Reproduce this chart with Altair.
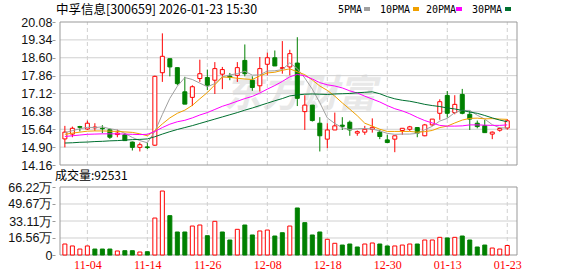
import altair as alt
import pandas as pd

# ---------------- data ----------------
dates = ["10-30", "10-31", "11-03", "11-04", "11-05", "11-06", "11-07", "11-10", "11-11", "11-12",
         "11-13", "11-14", "11-17", "11-18", "11-19", "11-20", "11-21", "11-24", "11-25", "11-26",
         "11-27", "11-28", "12-01", "12-02", "12-03", "12-04", "12-05", "12-08", "12-09", "12-10",
         "12-11", "12-12", "12-15", "12-16", "12-17", "12-18", "12-19", "12-22", "12-23", "12-24",
         "12-25", "12-26", "12-29", "12-30", "12-31", "01-05", "01-06", "01-07", "01-08", "01-09",
         "01-12", "01-13", "01-14", "01-15", "01-16", "01-19", "01-20", "01-21", "01-22", "01-23"]

opens = [15.24, 15.44, 15.75, 15.65, 15.70, 15.68, 15.62, 15.42, 15.41, 15.11,
         14.89, 14.91, 14.98, 17.98, 18.56, 18.19, 17.19, 16.96, 17.74, 17.78,
         17.67, 17.92, 17.84, 17.87, 18.49, 17.67, 17.44, 18.33, 18.60, 18.16,
         18.22, 18.38, 16.37, 16.64, 15.89, 15.23, 15.61, 15.81, 15.93, 15.48,
         15.52, 15.64, 15.52, 15.20, 15.23, 15.59, 15.64, 15.71, 15.37, 15.82,
         16.30, 17.04, 16.33, 17.08, 16.26, 15.89, 15.79, 15.44, 15.60, 15.69]
highs = [15.78, 15.75, 15.78, 16.00, 15.89, 15.81, 15.68, 15.62, 15.48, 15.13,
         15.09, 15.07, 17.86, 19.61, 18.56, 18.19, 17.81, 17.46, 18.52, 18.11,
         18.42, 18.22, 17.97, 18.42, 19.15, 17.83, 18.63, 18.81, 18.90, 19.29,
         18.93, 19.45, 17.05, 16.64, 16.14, 15.89, 16.33, 16.14, 16.00, 15.59,
         15.78, 16.09, 15.61, 15.41, 15.37, 15.68, 15.78, 15.71, 15.86, 16.06,
         16.88, 17.22, 17.05, 17.31, 16.40, 16.00, 16.03, 15.55, 15.72, 16.06]
lows = [14.89, 15.31, 15.55, 15.61, 15.57, 15.48, 15.24, 15.31, 15.17, 14.76,
        14.72, 14.82, 14.95, 17.60, 17.83, 17.46, 16.68, 16.60, 17.60, 17.26,
        17.10, 17.30, 17.67, 17.60, 17.83, 17.23, 17.20, 17.87, 18.26, 17.94,
        17.87, 16.60, 15.61, 15.96, 14.72, 14.86, 15.61, 15.61, 15.37, 15.37,
        15.41, 15.50, 15.23, 15.07, 14.69, 15.41, 15.57, 15.31, 15.35, 15.78,
        16.03, 16.12, 16.26, 16.26, 15.61, 15.68, 15.50, 15.23, 15.54, 15.62]
closes = [15.52, 15.68, 15.72, 15.89, 15.73, 15.66, 15.31, 15.48, 15.17, 14.89,
          15.00, 14.88, 17.83, 18.66, 18.22, 17.53, 16.68, 17.40, 17.94, 17.46,
          18.15, 18.11, 17.79, 18.19, 17.94, 17.37, 18.15, 18.60, 18.26, 18.19,
          18.77, 16.92, 16.64, 16.00, 15.37, 15.61, 15.78, 15.76, 15.61, 15.54,
          15.64, 15.72, 15.34, 15.09, 15.37, 15.68, 15.74, 15.48, 15.82, 16.06,
          16.78, 16.30, 16.67, 16.30, 16.06, 15.75, 15.50, 15.52, 15.67, 15.99]

# volume in 万 (10k)
volumes = [10.7, 8.8, 5.8, 8.8, 5.8, 5.8, 5.8, 3.9, 4.2, 4.2,
           2.9, 3.2, 36.0, 62.3, 38.3, 22.4, 22.4, 28.2, 29.2, 18.8,
           32.8, 22.4, 14.6, 25.0, 29.2, 19.5, 23.4, 24.3, 18.5, 21.7,
           28.2, 45.8, 31.5, 19.5, 22.4, 15.3, 11.4, 9.7, 10.7, 7.8,
           10.7, 11.7, 10.7, 8.8, 8.8, 9.7, 10.7, 10.7, 14.6, 14.6,
           17.2, 16.6, 17.2, 18.5, 14.6, 7.8, 9.7, 6.8, 5.8, 9.25]
# 1 = red (up vs previous close), 0 = green
vol_up = [1, 1, 1, 1, 0, 0, 0, 1, 0, 0,
          1, 0, 1, 1, 0, 0, 0, 1, 1, 0,
          1, 0, 0, 1, 0, 0, 1, 1, 0, 0,
          1, 0, 0, 0, 0, 1, 1, 0, 0, 0,
          1, 1, 0, 0, 1, 1, 1, 0, 1, 1,
          1, 0, 1, 0, 0, 0, 0, 1, 1, 1]

ma5 = [15.50, 15.58, 15.66, 15.72, 15.71, 15.74, 15.66, 15.61, 15.47, 15.30,
       15.17, 15.08, 15.55, 16.25, 16.92, 17.42, 17.78, 17.70, 17.55, 17.40,
       17.53, 17.81, 17.89, 17.94, 18.04, 17.88, 17.89, 18.05, 18.06, 18.11,
       18.39, 18.15, 17.76, 17.30, 16.74, 16.11, 15.88, 15.70, 15.63, 15.66,
       15.67, 15.65, 15.57, 15.47, 15.43, 15.44, 15.44, 15.47, 15.62, 15.76,
       15.98, 16.09, 16.33, 16.42, 16.42, 16.22, 16.06, 15.83, 15.70, 15.69]
ma10 = [15.43, 15.48, 15.52, 15.56, 15.57, 15.57, 15.56, 15.55, 15.53, 15.51,
        15.45, 15.37, 15.58, 15.86, 16.11, 16.30, 16.43, 16.63, 16.90, 17.16,
        17.48, 17.80, 17.79, 17.75, 17.72, 17.70, 17.85, 17.97, 18.00, 18.08,
        18.14, 18.02, 17.90, 17.68, 17.43, 17.25, 17.01, 16.73, 16.47, 16.20,
        15.89, 15.77, 15.64, 15.55, 15.55, 15.55, 15.55, 15.52, 15.54, 15.59,
        15.71, 15.77, 15.90, 16.02, 16.09, 16.10, 16.07, 16.08, 16.06, 16.05]
ma20 = [15.34, 15.37, 15.40, 15.43, 15.44, 15.45, 15.45, 15.45, 15.44, 15.43,
        15.42, 15.43, 15.55, 15.71, 15.85, 15.95, 16.01, 16.11, 16.23, 16.33,
        16.46, 16.59, 16.69, 16.80, 16.91, 17.00, 17.14, 17.30, 17.45, 17.62,
        17.81, 17.91, 17.85, 17.72, 17.57, 17.48, 17.43, 17.35, 17.23, 17.14,
        17.01, 16.89, 16.77, 16.62, 16.49, 16.40, 16.28, 16.13, 16.00, 15.90,
        15.80, 15.77, 15.77, 15.78, 15.82, 15.82, 15.81, 15.80, 15.80, 15.82]
ma30 = [15.07, 15.08, 15.10, 15.11, 15.13, 15.14, 15.16, 15.17, 15.19, 15.21,
        15.22, 15.24, 15.33, 15.44, 15.54, 15.63, 15.71, 15.79, 15.88, 15.97,
        16.06, 16.15, 16.24, 16.33, 16.43, 16.52, 16.62, 16.72, 16.82, 16.91,
        17.02, 17.06, 17.09, 17.10, 17.09, 17.08, 17.10, 17.11, 17.12, 17.15,
        17.17, 17.19, 17.11, 16.99, 16.90, 16.84, 16.80, 16.74, 16.67, 16.62,
        16.58, 16.52, 16.48, 16.42, 16.35, 16.30, 16.21, 16.11, 16.02, 15.95]

price_ticks = [14.16, 14.90, 15.64, 16.38, 17.12, 17.86, 18.60, 19.34, 20.08]
vol_ticks = [0, 16.56, 33.11, 49.67, 66.22]
date_tick_labels = ["11-04", "11-14", "11-26", "12-08", "12-18", "12-30", "01-13", "01-23"]

title_text = "中孚信息[300659] 2026-01-23 15:30"
vol_caption = "成交量:92531"
watermark = "东方财富"
ma_names = ["5PMA", "10PMA", "20PMA", "30PMA"]
ma_fields = ["ma5", "ma10", "ma20", "ma30"]
ma_colors = ["#a0a0a0", "#f0a000", "#ff00ff", "#007030"]

n = len(dates)
for arr in (opens, highs, lows, closes, volumes, vol_up, ma5, ma10, ma20, ma30):
    assert len(arr) == n

df = pd.DataFrame({
    "i": list(range(n)), "date": dates, "open": opens, "high": highs, "low": lows,
    "close": closes, "vol": volumes, "vup": vol_up,
    "ma5": ma5, "ma10": ma10, "ma20": ma20, "ma30": ma30,
})
df["up"] = (df["close"] >= df["open"]).astype(int)

# ---------------- scales & axes ----------------
RED, GREEN = "#ff0000", "#008000"
X0, X1 = -0.65, 60.3
P0, P1 = price_ticks[0], price_ticks[-1]
V0, V1 = vol_ticks[0], vol_ticks[-1]

xs = alt.Scale(domain=[X0, X1], range=[55, 522], nice=False, zero=False)
ps = alt.Scale(domain=[P0, P1], range=[165, 22], nice=False, zero=False)
vs = alt.Scale(domain=[V0, V1], range=[255, 187], nice=False, zero=False)

tick_idx = [dates.index(d) for d in date_tick_labels]
date_expr = "[" + ",".join("'%s'" % d for d in dates) + "][datum.value]"

xaxis = alt.Axis(values=tick_idx, labelExpr=date_expr, orient="bottom", grid=False,
                 domain=False, ticks=False, labelColor=RED, labelFont="Liberation Serif",
                 labelFontSize=12, labelPadding=4, labelFlush=False, labelOverlap=False,
                 title=None)
paxis = alt.Axis(values=price_ticks, format=".2f", orient="left", offset=-55, grid=False,
                 domain=False, ticks=True, tickSize=3, tickColor="#999999",
                 labelColor="#111111", labelFont="Liberation Sans", labelFontSize=12.5,
                 labelPadding=0, labelFlush=False, labelOverlap=False, title=None)
vaxis = alt.Axis(values=vol_ticks,
                 labelExpr="datum.value == 0 ? '0' : format(datum.value, '.2f') + '万'",
                 orient="left", offset=-55, grid=False, domain=False, ticks=True,
                 tickSize=3, tickColor="#999999", labelColor="#111111",
                 labelFont="Liberation Sans", labelFontSize=12.5, labelPadding=0,
                 labelFlush=False, labelOverlap=False, title=None)


def X(f):
    return alt.X(f, type="quantitative", scale=xs, axis=xaxis)


def PY(f):
    return alt.Y(f, type="quantitative", scale=ps, axis=paxis)


def VY(f):
    return alt.Y(f, type="quantitative", scale=vs, axis=vaxis)


# helper tables for grid / frames
grid_p = pd.DataFrame({"v": price_ticks[1:-1], "xa": X0, "xb": X1})
grid_v = pd.DataFrame({"v": vol_ticks[1:-1], "xa": X0, "xb": X1})
vgrid_p = pd.DataFrame({"i": tick_idx, "ya": P0, "yb": P1})
vgrid_v = pd.DataFrame({"i": tick_idx, "ya": V0, "yb": V1})
frame_p = pd.DataFrame({"xa": [X0], "xb": [X1], "ya": [P0], "yb": [P1]})
frame_v = pd.DataFrame({"xa": [X0], "xb": [X1], "ya": [V0], "yb": [V1]})

GRID = "#d0d0d0"
FRAME = "#999999"

# ---------------- price panel ----------------
wm = alt.Chart(pd.DataFrame({"t": [watermark]})).mark_text(
    font="Noto Sans CJK SC", fontSize=38, fontStyle="italic", fontWeight="bold",
    color="#e8e8e8", align="center", baseline="middle"
).encode(x=alt.value(300), y=alt.value(96), text="t:N")

p_hgrid = alt.Chart(grid_p).mark_rule(color=GRID, strokeWidth=1).encode(
    x=X("xa"), x2="xb:Q", y=PY("v"))
p_vgrid = alt.Chart(vgrid_p).mark_rule(color=GRID, strokeWidth=1, strokeDash=[4, 3]).encode(
    x=X("i"), y=PY("ya"), y2="yb:Q")
p_frame = alt.Chart(frame_p).mark_rect(fillOpacity=0, stroke=FRAME, strokeWidth=1).encode(
    x=X("xa"), x2="xb:Q", y=PY("ya"), y2="yb:Q")

cond_up = alt.datum.up == 1
wicks = alt.Chart(df).mark_rule(strokeWidth=1).encode(
    x=X("i"), y=PY("low"), y2="high:Q",
    color=alt.condition(cond_up, alt.value(RED), alt.value(GREEN)))
bodies = alt.Chart(df).mark_bar(size=4, strokeWidth=1).encode(
    x=X("i"), y=PY("open"), y2="close:Q",
    fill=alt.condition(cond_up, alt.value("#ffffff"), alt.value(GREEN)),
    stroke=alt.condition(cond_up, alt.value(RED), alt.value(GREEN)))

ma_lines = [
    alt.Chart(df).mark_line(color=c, strokeWidth=1).encode(x=X("i"), y=PY(f))
    for f, c in zip(ma_fields, ma_colors)
]

title = alt.Chart(pd.DataFrame({"t": [title_text]})).mark_text(
    font="Noto Sans CJK SC", fontSize=12.5, color="#000000", align="left", baseline="middle"
).encode(x=alt.value(56), y=alt.value(10), text="t:N")

caption = alt.Chart(pd.DataFrame({"t": [vol_caption]})).mark_text(
    font="Noto Sans CJK SC", fontSize=12, color="#000000", align="left", baseline="middle"
).encode(x=alt.value(55), y=alt.value(176), text="t:N")

legend_text_x = [338, 380, 426, 472]
legend_sq_x = [364, 413, 456, 505]
legend_layers = []
for name, col, tx, sx in zip(ma_names, ma_colors, legend_text_x, legend_sq_x):
    legend_layers.append(
        alt.Chart(pd.DataFrame({"t": [name]})).mark_text(
            font="DejaVu Sans Mono", fontSize=10, color="#000000", align="left",
            baseline="middle"
        ).encode(x=alt.value(tx), y=alt.value(10), text="t:N"))
    legend_layers.append(
        alt.Chart(pd.DataFrame({"t": [name]})).mark_rect(color=col).encode(
            x=alt.value(sx), x2=alt.value(sx + 6), y=alt.value(7), y2=alt.value(11)))

price = alt.layer(wm, p_hgrid, p_vgrid, p_frame, wicks, bodies, *ma_lines,
                  title, caption, *legend_layers)

# ---------------- volume panel ----------------
v_hgrid = alt.Chart(grid_v).mark_rule(color=GRID, strokeWidth=1).encode(
    x=X("xa"), x2="xb:Q", y=VY("v"))
v_vgrid = alt.Chart(vgrid_v).mark_rule(color=GRID, strokeWidth=1, strokeDash=[4, 3]).encode(
    x=X("i"), y=VY("ya"), y2="yb:Q")
v_frame = alt.Chart(frame_v).mark_rect(fillOpacity=0, stroke=FRAME, strokeWidth=1).encode(
    x=X("xa"), x2="xb:Q", y=VY("ya"), y2="yb:Q")
cond_vup = alt.datum.vup == 1
vbars = alt.Chart(df).mark_bar(size=4, strokeWidth=1).encode(
    x=X("i"), y=VY("vol"),
    fill=alt.condition(cond_vup, alt.value("#ffffff"), alt.value(GREEN)),
    stroke=alt.condition(cond_vup, alt.value(RED), alt.value(GREEN)))

volume = alt.layer(v_hgrid, v_vgrid, v_frame, vbars)

chart = alt.layer(price, volume).resolve_scale(y="independent").properties(
    width=578, height=255,
    autosize=alt.AutoSizeParams(type="none"),
    padding={"left": 0, "top": 0, "right": 0, "bottom": 21},
    background="#ffffff",
).configure_view(strokeWidth=0)

chart.save("out.html", embed_options={"renderer": "svg", "actions": False})
